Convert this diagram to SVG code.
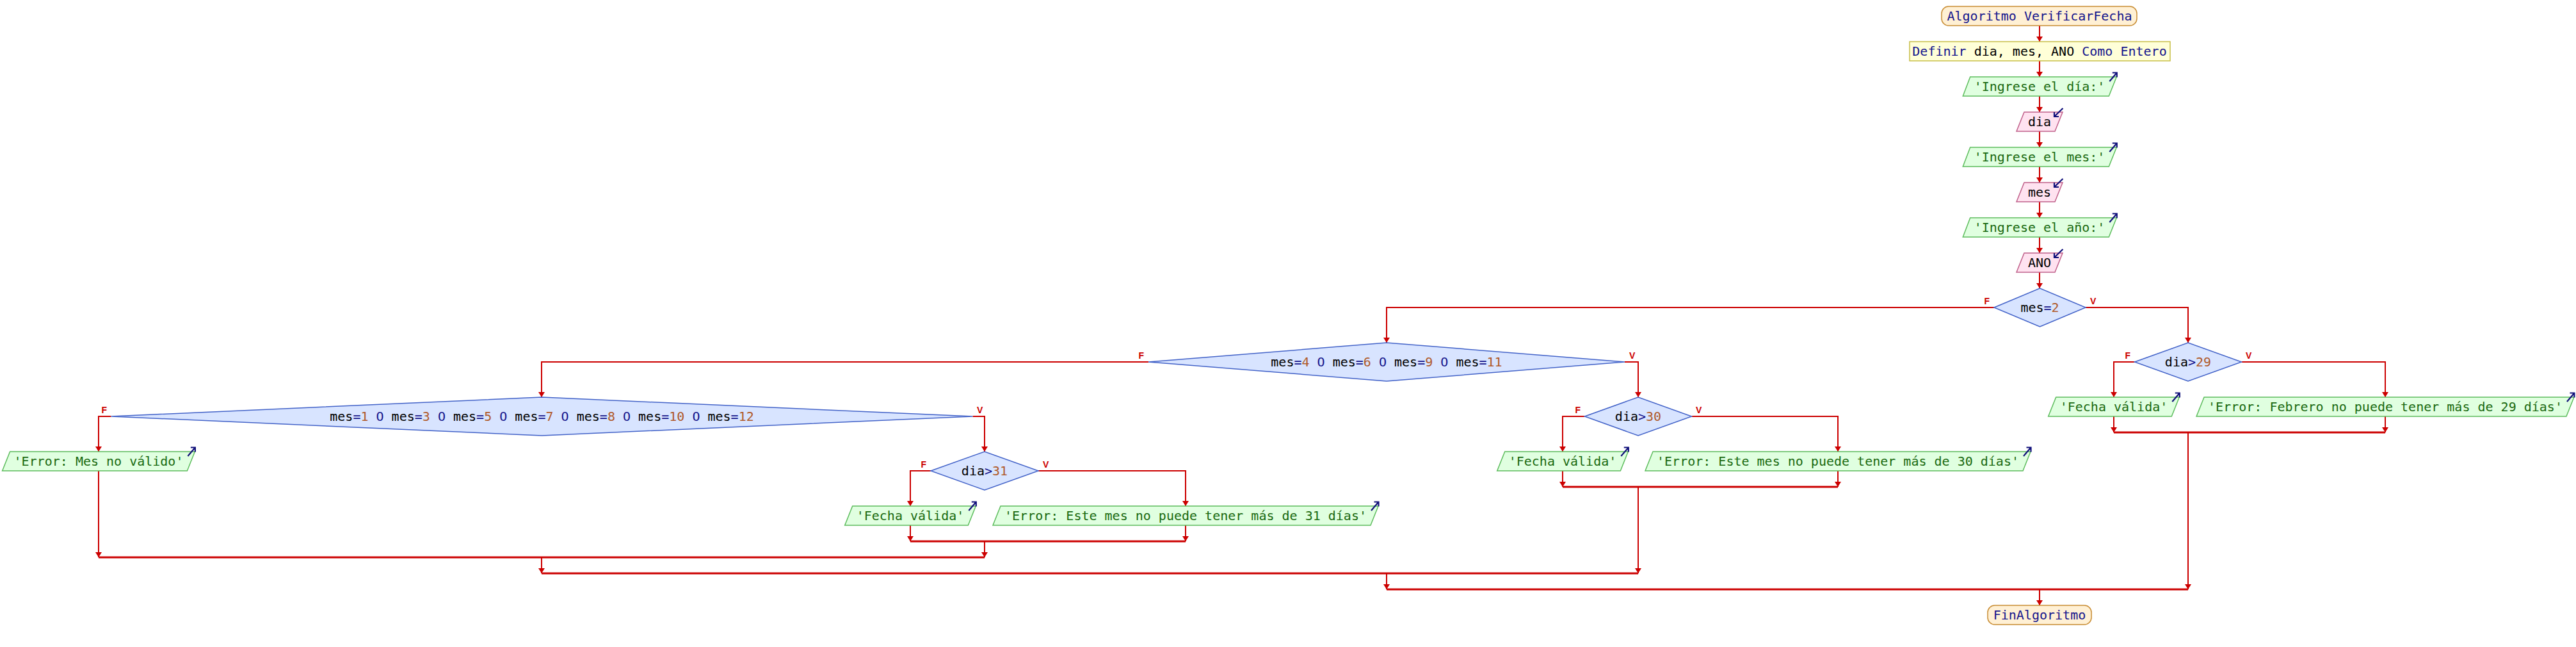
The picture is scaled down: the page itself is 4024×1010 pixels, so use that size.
<svg xmlns="http://www.w3.org/2000/svg" xmlns:xlink="http://www.w3.org/1999/xlink" width="4024" height="1010" viewBox="0 0 4024 1010">
<style>
.t{font-family:"DejaVu Sans Mono","Liberation Mono",monospace;font-size:20px;text-anchor:middle;fill:#000}
.kw{fill:#14148c}
.op{fill:#14148c}
.nm{fill:#b05a2a}
.st{fill:#1a6a10}
.term{fill:#fff0d4;stroke:#c88c32;stroke-width:1.5}
.proc{fill:#ffffd8;stroke:#c8be48;stroke-width:1.5}
.out{fill:#e0ffe0;stroke:#5cbc5c;stroke-width:1.5}
.in{fill:#ffe2f0;stroke:#c0608a;stroke-width:1.5}
.dec{fill:#d8e4ff;stroke:#4262c8;stroke-width:1.5}
.ln{fill:none;stroke:#cc0000;stroke-width:2}
.jn{fill:none;stroke:#cc0000;stroke-width:3}
.lb{font-family:"Liberation Sans","DejaVu Sans",sans-serif;font-size:14px;font-weight:bold;fill:#cc0000}
.ic{fill:none;stroke:#10107a;stroke-width:2.2}
</style>
<defs>
<marker id="ah" markerUnits="userSpaceOnUse" markerWidth="9" markerHeight="10" viewBox="0 0 8 10" refX="8" refY="5" orient="auto">
<path d="M0,0 L8,5 L0,10 z" fill="#cc0000"/>
</marker>
<path id="oic" class="ic" d="M-11,7 L0.5,-6.5 M-6.5,-6.5 L0.5,-6.5 L0.5,0.5"/>
<path id="iic" class="ic" d="M0.5,-6 L-13,7 M-13,0 L-13,7 L-6,7"/>
</defs>

<g id="connectors">
<path class="ln" marker-end="url(#ah)" d="M3186,40 V65"/>
<path class="ln" marker-end="url(#ah)" d="M3186,95 V120"/>
<path class="ln" marker-end="url(#ah)" d="M3186,150 V175"/>
<path class="ln" marker-end="url(#ah)" d="M3186,205 V230"/>
<path class="ln" marker-end="url(#ah)" d="M3186,260 V285"/>
<path class="ln" marker-end="url(#ah)" d="M3186,315 V340"/>
<path class="ln" marker-end="url(#ah)" d="M3186,370 V395"/>
<path class="ln" marker-end="url(#ah)" d="M3186,425 V450"/>
<!-- mes=2 -->
<path class="ln" marker-end="url(#ah)" d="M3115,480 H2166 V535"/>
<path class="ln" marker-end="url(#ah)" d="M3258,480 H3418 V535"/>
<!-- dia>29 -->
<path class="ln" marker-end="url(#ah)" d="M3334.5,565 H3302 V620"/>
<path class="ln" marker-end="url(#ah)" d="M3501.5,565 H3726 V620"/>
<path class="ln" marker-end="url(#ah)" d="M3302,650 V675"/>
<path class="ln" marker-end="url(#ah)" d="M3726,650 V675"/>
<path class="jn" d="M3302,675 H3726"/>
<path class="ln" marker-end="url(#ah)" d="M3418,675 V920"/>
<!-- mes=4 -->
<path class="ln" marker-end="url(#ah)" d="M1794,565 H846 V620"/>
<path class="ln" marker-end="url(#ah)" d="M2538,565 H2559 V620"/>
<!-- dia>30 -->
<path class="ln" marker-end="url(#ah)" d="M2475.5,650 H2441 V705"/>
<path class="ln" marker-end="url(#ah)" d="M2642.5,650 H2871 V705"/>
<path class="ln" marker-end="url(#ah)" d="M2441,735 V760"/>
<path class="ln" marker-end="url(#ah)" d="M2871,735 V760"/>
<path class="jn" d="M2441,760 H2871"/>
<path class="ln" marker-end="url(#ah)" d="M2559,760 V895"/>
<!-- mes=1 -->
<path class="ln" marker-end="url(#ah)" d="M173.5,650 H154 V705"/>
<path class="ln" marker-end="url(#ah)" d="M1519.5,650 H1538 V705"/>
<path class="ln" marker-end="url(#ah)" d="M154,735 V870"/>
<!-- dia>31 -->
<path class="ln" marker-end="url(#ah)" d="M1454,735 H1422 V790"/>
<path class="ln" marker-end="url(#ah)" d="M1622,735 H1852 V790"/>
<path class="ln" marker-end="url(#ah)" d="M1422,820 V845"/>
<path class="ln" marker-end="url(#ah)" d="M1852,820 V845"/>
<path class="jn" d="M1422,845 H1852"/>
<path class="ln" marker-end="url(#ah)" d="M1538,845 V870"/>
<path class="jn" d="M154,870 H1538"/>
<path class="ln" marker-end="url(#ah)" d="M846,870 V895"/>
<path class="jn" d="M846,895 H2559"/>
<path class="ln" marker-end="url(#ah)" d="M2166,895 V920"/>
<path class="jn" d="M2166,920 H3418"/>
<path class="ln" marker-end="url(#ah)" d="M3186,920 V945"/>
<!-- branch labels -->
<text class="lb" x="3108" y="475" text-anchor="end">F</text>
<text class="lb" x="3265" y="475">V</text>
<text class="lb" x="3328" y="560" text-anchor="end">F</text>
<text class="lb" x="3508" y="560">V</text>
<text class="lb" x="1787" y="560" text-anchor="end">F</text>
<text class="lb" x="2545" y="560">V</text>
<text class="lb" x="2469" y="645" text-anchor="end">F</text>
<text class="lb" x="2649" y="645">V</text>
<text class="lb" x="167" y="645" text-anchor="end">F</text>
<text class="lb" x="1526" y="645">V</text>
<text class="lb" x="1447" y="730" text-anchor="end">F</text>
<text class="lb" x="1629" y="730">V</text>
</g>

<g id="inicio">
<rect class="term" x="3033" y="10" width="305" height="30" rx="11"/>
<text class="t" x="3186" y="32"><tspan class="kw">Algoritmo VerificarFecha</tspan></text>
</g>
<g id="definir">
<rect class="proc" x="2983" y="65" width="407" height="30"/>
<text class="t" x="3186" y="87"><tspan class="kw">Definir</tspan> dia, mes, ANO <tspan class="kw">Como Entero</tspan></text>
</g>
<g id="escribir_dia">
<polygon class="out" points="3077.7,120 3306.3,120 3294.3,150 3066.3,150"/>
<text class="t st" x="3186" y="142">'Ingrese el día:'</text>
<use xlink:href="#oic" href="#oic" x="3306.3" y="120"/>
</g>
<g id="leer_dia">
<polygon class="in" points="3162,175 3222,175 3210,205 3150,205"/>
<text class="t" x="3186" y="197">dia</text>
<use xlink:href="#iic" href="#iic" x="3222" y="175"/>
</g>
<g id="escribir_mes">
<polygon class="out" points="3077.7,230 3306.3,230 3294.3,260 3066.3,260"/>
<text class="t st" x="3186" y="252">'Ingrese el mes:'</text>
<use xlink:href="#oic" href="#oic" x="3306.3" y="230"/>
</g>
<g id="leer_mes">
<polygon class="in" points="3162,285 3222,285 3210,315 3150,315"/>
<text class="t" x="3186" y="307">mes</text>
<use xlink:href="#iic" href="#iic" x="3222" y="285"/>
</g>
<g id="escribir_ano">
<polygon class="out" points="3077.7,340 3306.3,340 3294.3,370 3066.3,370"/>
<text class="t st" x="3186" y="362">'Ingrese el año:'</text>
<use xlink:href="#oic" href="#oic" x="3306.3" y="340"/>
</g>
<g id="leer_ano">
<polygon class="in" points="3162,395 3222,395 3210,425 3150,425"/>
<text class="t" x="3186" y="417">ANO</text>
<use xlink:href="#iic" href="#iic" x="3222" y="395"/>
</g>

<g id="si_mes2">
<polygon class="dec" points="3115,480 3186.5,450 3258,480 3186.5,510"/>
<text class="t" x="3186.5" y="487">mes<tspan class="op">=</tspan><tspan class="nm">2</tspan></text>
</g>
<g id="si_dia29">
<polygon class="dec" points="3334.5,565 3418,535 3501.5,565 3418,595"/>
<text class="t" x="3418" y="572">dia<tspan class="op">&gt;</tspan><tspan class="nm">29</tspan></text>
</g>
<g id="fecha_valida_29">
<polygon class="out" points="3211.7,620 3404.3,620 3392.3,650 3199.7,650"/>
<text class="t st" x="3302" y="642">'Fecha válida'</text>
<use xlink:href="#oic" href="#oic" x="3404.3" y="620"/>
</g>
<g id="error_29">
<polygon class="out" points="3443.1,620 4020.9,620 4008.9,650 3431.1,650"/>
<text class="t st" x="3726" y="642">'Error: Febrero no puede tener más de 29 días'</text>
<use xlink:href="#oic" href="#oic" x="4020.9" y="620"/>
</g>

<g id="si_mes30">
<polygon class="dec" points="1794,565 2166,535 2538,565 2166,595"/>
<text class="t" x="2166" y="572">mes<tspan class="op">=</tspan><tspan class="nm">4</tspan> <tspan class="op">O</tspan> mes<tspan class="op">=</tspan><tspan class="nm">6</tspan> <tspan class="op">O</tspan> mes<tspan class="op">=</tspan><tspan class="nm">9</tspan> <tspan class="op">O</tspan> mes<tspan class="op">=</tspan><tspan class="nm">11</tspan></text>
</g>
<g id="si_dia30">
<polygon class="dec" points="2475.5,650 2559,620 2642.5,650 2559,680"/>
<text class="t" x="2559" y="657">dia<tspan class="op">&gt;</tspan><tspan class="nm">30</tspan></text>
</g>
<g id="fecha_valida_30">
<polygon class="out" points="2350.7,705 2543.3,705 2531.3,735 2338.7,735"/>
<text class="t st" x="2441" y="727">'Fecha válida'</text>
<use xlink:href="#oic" href="#oic" x="2543.3" y="705"/>
</g>
<g id="error_30">
<polygon class="out" points="2582,705 3172,705 3160,735 2570,735"/>
<text class="t st" x="2871" y="727">'Error: Este mes no puede tener más de 30 días'</text>
<use xlink:href="#oic" href="#oic" x="3172" y="705"/>
</g>

<g id="si_mes31">
<polygon class="dec" points="173.5,650 846.5,620 1519.5,650 846.5,680"/>
<text class="t" x="846.5" y="657">mes<tspan class="op">=</tspan><tspan class="nm">1</tspan> <tspan class="op">O</tspan> mes<tspan class="op">=</tspan><tspan class="nm">3</tspan> <tspan class="op">O</tspan> mes<tspan class="op">=</tspan><tspan class="nm">5</tspan> <tspan class="op">O</tspan> mes<tspan class="op">=</tspan><tspan class="nm">7</tspan> <tspan class="op">O</tspan> mes<tspan class="op">=</tspan><tspan class="nm">8</tspan> <tspan class="op">O</tspan> mes<tspan class="op">=</tspan><tspan class="nm">10</tspan> <tspan class="op">O</tspan> mes<tspan class="op">=</tspan><tspan class="nm">12</tspan></text>
</g>
<g id="error_mes">
<polygon class="out" points="15.6,705 304.4,705 292.4,735 3.6,735"/>
<text class="t st" x="154" y="727">'Error: Mes no válido'</text>
<use xlink:href="#oic" href="#oic" x="304.4" y="705"/>
</g>
<g id="si_dia31">
<polygon class="dec" points="1454,735 1538,705 1622,735 1538,765"/>
<text class="t" x="1538" y="742">dia<tspan class="op">&gt;</tspan><tspan class="nm">31</tspan></text>
</g>
<g id="fecha_valida_31">
<polygon class="out" points="1331.7,790 1524.3,790 1512.3,820 1319.7,820"/>
<text class="t st" x="1422" y="812">'Fecha válida'</text>
<use xlink:href="#oic" href="#oic" x="1524.3" y="790"/>
</g>
<g id="error_31">
<polygon class="out" points="1563,790 2153,790 2141,820 1551,820"/>
<text class="t st" x="1852" y="812">'Error: Este mes no puede tener más de 31 días'</text>
<use xlink:href="#oic" href="#oic" x="2153" y="790"/>
</g>

<g id="fin">
<rect class="term" x="3105" y="945" width="162" height="30" rx="11"/>
<text class="t" x="3186" y="967"><tspan class="kw">FinAlgoritmo</tspan></text>
</g>
</svg>
